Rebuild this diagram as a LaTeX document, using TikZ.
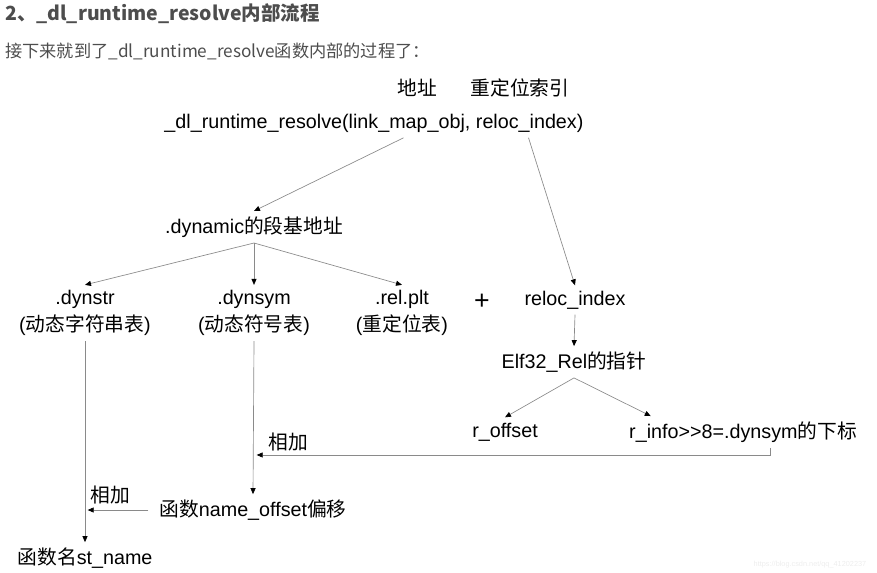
\documentclass[tikz,border=0pt]{standalone}
\usepackage{fontspec}
\setmainfont{Liberation Sans}
\newfontfamily\cjk{Noto Sans CJK SC}
\usepackage{xcolor}
\usetikzlibrary{arrows.meta,calc,positioning}

\definecolor{hdgray}{HTML}{4D4D4D}
\definecolor{linegray}{HTML}{8A8A8A}

\tikzset{
  lbl/.style={inner xsep=1pt, inner ysep=4pt, font=\fontsize{14.8pt}{20pt}\selectfont, text=black},
  conn/.style={draw=linegray, line width=0.5pt, -{Triangle[length=4.5pt,width=3.8pt,color=black]}},
}

\begin{document}
\begin{tikzpicture}[x=0.75pt, y=-0.75pt]
  \useasboundingbox (0,0) rectangle (877,572);
  % heading
  \node[anchor=west, inner sep=0pt, text=hdgray, font=\cjk\bfseries\fontsize{14.6pt}{17pt}\selectfont] (title) at (5,14) {2、\_dl\_runtime\_resolve内部流程};
  \node[anchor=west, inner sep=0pt, text=hdgray, font=\cjk\fontsize{12.9pt}{16pt}\selectfont] (intro) at (5,51) {接下来就到了\_dl\_runtime\_resolve函数内部的过程了：};

  % call and its arguments
  \node[lbl] (addr) at (417,88) {\cjk 地址};
  \node[lbl] (idx) at (520,88) {\cjk 重定位索引};
  \node[lbl] (resolve) at (374,123) {\_dl\_runtime\_resolve(link\_map\_obj, reloc\_index)};
  \node[lbl] (dynamic) at (254,227) {.dynamic{\cjk 的段基地址}};

  % sections
  \node[lbl, align=center] (dynstr) at (85,313) {.dynstr\\({\cjk 动态字符串表})};
  \node[lbl, align=center] (dynsym) at (254,313) {.dynsym\\({\cjk 动态符号表})};
  \node[lbl, align=center] (relplt) at (402,313) {.rel.plt\\({\cjk 重定位表})};
  \node[lbl, font=\fontsize{20pt}{20pt}\selectfont] (plus) at (482,302) {+};
  \node[lbl] (reloc) at (575,300) {reloc\_index};
  \node[lbl] (elfrel) at (574,362) {Elf32\_Rel{\cjk 的指针}};
  \node[lbl] (roff) at (505,432) {r\_offset};
  \node[lbl] (rinfo) at (743,432) {r\_info>{}>8=.dynsym{\cjk 的下标}};

  % results
  \node[lbl] (add1) at (288,442) {\cjk 相加};
  \node[lbl] (offset) at (253,510) {{\cjk 函数}name\_offset{\cjk 偏移}};
  \node[lbl] (add2) at (110,495) {\cjk 相加};
  \node[lbl] (stname) at (85,558) {{\cjk 函数名}st\_name};

  \node[inner sep=0pt, text=black!7, font=\fontsize{5.5pt}{6pt}\selectfont] (mark) at (810,565) {https://blog.csdn.net/qq\_41202237};

  % connectors
  \draw[conn] ($(resolve.south west)!0.57!(resolve.south east)$) -- (dynamic.north);
  \draw[conn] ($(resolve.south west)!0.866!(resolve.south east)$) -- (reloc.north);
  \draw[conn] (dynamic.south) -- (dynstr.north);
  \draw[conn] (dynamic.south) -- (dynsym.north);
  \draw[conn] (dynamic.south) -- (relplt.north);
  \draw[conn] (reloc.south) -- (elfrel.north);
  \draw[conn] (elfrel.south) -- (roff.north);
  \draw[conn] (elfrel.south) -- ($(rinfo.north west)!0.1!(rinfo.north east)$);
  \draw[conn] (dynsym.south) -- (offset.north);
  \draw[conn] (dynstr.south) -- (stname.north);
  \draw[conn, shorten >=2pt] ($(rinfo.south west)!0.62!(rinfo.south east)$) -- ++(0,7) coordinate (turn) -- (turn -| dynsym.south);
  \draw[conn, shorten >=2pt] ([xshift=-7pt]offset.west) -- (offset.west -| dynstr.south);
\end{tikzpicture}
\end{document}
